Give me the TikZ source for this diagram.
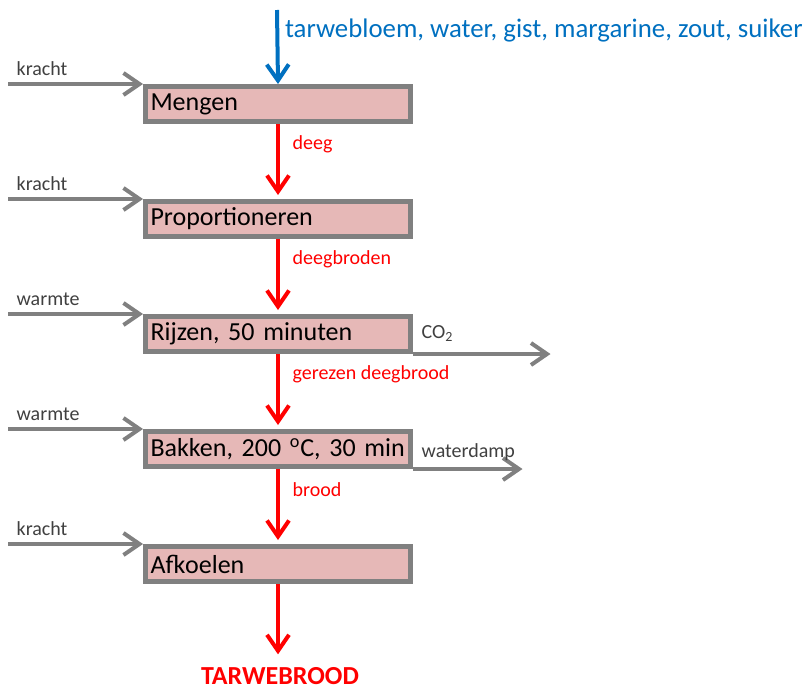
\documentclass[tikz,border=0pt]{standalone}
\usepackage{fontspec}
\setmainfont{Carlito}
\usepackage{tikz}
\usetikzlibrary{positioning,arrows.meta}

\definecolor{procfill}{HTML}{E6B8B7}
\definecolor{procgray}{HTML}{808080}
\definecolor{labgray}{HTML}{404040}
\definecolor{flowred}{HTML}{FF0000}
\definecolor{flowblue}{HTML}{0070C0}

\begin{document}
\begin{tikzpicture}[x=1pt, y=1pt, node distance=37.5pt,
  proc/.style={draw=procgray, line width=2.5pt, fill=procfill, text width=127.5pt,
    inner xsep=2.5pt, inner ysep=1pt, minimum height=17.5pt, align=left,
    font=\fontsize{13}{15}\selectfont},
  tip/.style={-{Straight Barb[length=8pt, width=11pt]}},
  grayflow/.style={tip, draw=procgray, line width=2pt},
  redflow/.style={tip, draw=flowred, line width=2pt, shorten >=2pt},
  blueflow/.style={tip, draw=flowblue, line width=2pt},
  graylab/.style={text=labgray, font=\fontsize{10}{12}\selectfont},
  redlab/.style={text=flowred, font=\fontsize{10}{12}\selectfont}]
  \useasboundingbox (0,0) rectangle (406,-345.5);

  % process steps
  \node[proc] (meng) at (139,-52) {Mengen};
  \node[proc, below=of meng] (prop) {Proportioneren};
  \node[proc, below=of prop] (rijz) {Rijzen, 50 minuten};
  \node[proc, below=of rijz] (bakk) {Bakken, 200 \textsuperscript{o}C, 30 min};
  \node[proc, below=of bakk] (afko) {Afkoelen};

  % ingredients
  \coordinate (ingr-top) at (138.5,-5);
  \node[anchor=west, text=flowblue, font=\fontsize{13.4}{15}\selectfont] (ingr)
    at (139,-15) {tarwebloem, water, gist, margarine, zout, suiker};
  \draw[blueflow] (ingr-top) -- (meng.north);

  % energy in
  \foreach \b/\t in {meng/kracht, prop/kracht, rijz/warmte, bakk/warmte, afko/kracht} {
    \coordinate (in-\b) at ([xshift=-67.5pt]\b.north west);
    \draw[grayflow] (in-\b) node[above right, graylab] {\t} -- (\b.north west);
  }

  % main flow
  \path[redflow]
  (meng) edge node[pos=0.27, right=3pt, redlab] {deeg} (prop)
  (prop) edge node[pos=0.27, right=3pt, redlab] {deegbroden} (rijz)
  (rijz) edge node[pos=0.27, right=3pt, redlab] {gerezen deegbrood} (bakk)
  (bakk) edge node[pos=0.27, right=3pt, redlab] {brood} (afko);

  % product
  \node[text=flowred, font=\fontsize{13}{15}\selectfont\bfseries] (prod) at (140,-338) {TARWEBROOD};
  \draw[redflow, shorten >=3pt] (afko.south) -- (afko.south |- prod.north);

  % outgoing
  \coordinate (uit-rijz) at ([xshift=68.75pt]rijz.south east);
  \coordinate (uit-bakk) at ([xshift=54.75pt]bakk.south east);
  \draw[grayflow] (rijz.south east) node[above right, graylab, yshift=2pt] {CO\textsubscript{2}} -- (uit-rijz);
  \draw[grayflow] (bakk.south east) node[above right, graylab] {waterdamp} -- (uit-bakk);
\end{tikzpicture}
\end{document}
